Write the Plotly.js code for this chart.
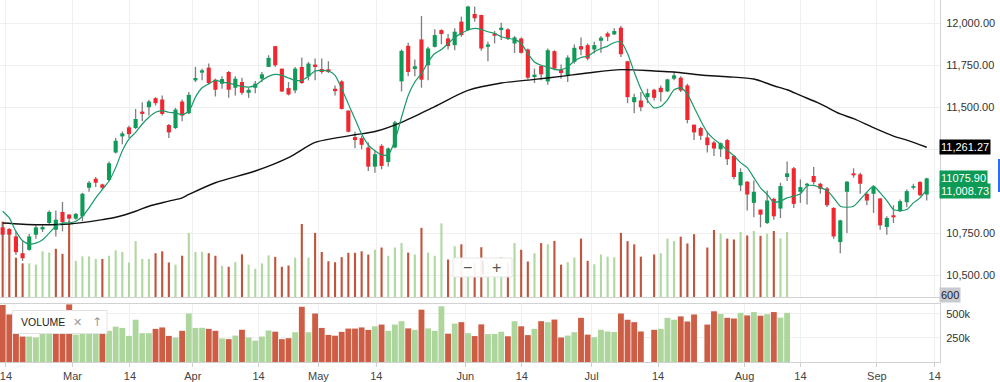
<!DOCTYPE html>
<html><head><meta charset="utf-8">
<script src="https://cdn.plot.ly/plotly-3.0.1.min.js"></script>
<style>html,body{margin:0;padding:0;background:#fff;}#chart{width:1000px;height:382px;}</style>
</head><body><div id="chart"></div>
<script>
// ---- data ----
const opens = [
10784,10774,10730,10630,10650,10740,10772,10810,10770,10876,
10860,10836,10850,11020,11074,11040,11066,11230,11326,11380,
11376,11474,11500,11554,11546,11394,11376,11534,11464,11660,
11706,11736,11664,11640,11710,11616,11650,11586,11616,11670,
11740,11864,11730,11614,11600,11740,11684,11754,11728,11726,
11610,11654,11480,11322,11316,11260,11146,11270,11174,11260,
11654,11866,11728,11904,11750,11860,11960,11910,11870,12010,
11960,12056,12050,11860,11940,11960,11964,11880,11910,11844,
11680,11746,11654,11834,11726,11690,11770,11864,11870,11844,
11896,11940,11934,11974,11774,11530,11540,11560,11604,11616,
11594,11670,11676,11630,11396,11376,11320,11290,11250,11304,
11210,11034,11056,10930,10890,10810,10954,10896,11084,11136,
10996,11034,11090,11044,11016,10900,10696,10996,11106,11100,
10984,10984,10956,10786,10856,10880,10934,11020,11054,10980];
const highs = [
10800,10780,10760,10704,10744,10796,10796,10884,10884,10936,
10864,10870,10990,11060,11084,11044,11176,11316,11356,11390,
11490,11530,11544,11560,11570,11400,11496,11546,11590,11740,
11730,11760,11670,11684,11716,11684,11676,11616,11656,11710,
11810,11864,11730,11650,11740,11796,11770,11790,11790,11774,
11630,11660,11480,11354,11330,11290,11240,11280,11260,11420,
11844,11884,11784,12044,11860,11964,11964,11936,11970,12040,
12104,12100,12050,11890,11954,12004,11970,11924,11916,11850,
11730,11750,11850,11840,11754,11810,11874,11916,11880,11890,
11924,11950,11970,11986,11774,11580,11590,11610,11610,11630,
11670,11710,11684,11640,11396,11384,11356,11300,11290,11310,
11216,11136,11060,11064,10890,11004,10960,11050,11176,11144,
11070,11050,11144,11050,11024,10904,10830,11060,11136,11110,
10994,11034,10960,10850,10916,10950,11010,11044,11060,11080];
const lows = [
10730,10724,10620,10584,10644,10716,10756,10800,10730,10760,
10800,10830,10820,10996,11024,11010,11060,11224,11280,11316,
11370,11416,11450,11510,11450,11316,11370,11416,11460,11650,
11660,11636,11564,11610,11556,11570,11574,11556,11584,11650,
11740,11740,11590,11570,11584,11640,11660,11660,11700,11704,
11570,11486,11350,11256,11250,11120,11110,11130,11146,11256,
11594,11684,11684,11616,11660,11856,11876,11844,11840,11920,
11954,12010,11836,11774,11880,11900,11900,11824,11820,11666,
11644,11660,11634,11720,11670,11650,11760,11810,11780,11820,
11824,11894,11930,11800,11524,11464,11476,11524,11540,11534,
11590,11660,11590,11404,11304,11304,11230,11210,11204,11156,
11070,11000,10884,10844,10784,10804,10830,10840,11060,10900,
10930,10920,11040,10984,10906,10716,10630,10750,11080,10984,
10916,10870,10770,10740,10810,10876,10904,11010,10970,10944];
const closes = [
10740,10740,10636,10600,10730,10784,10786,10876,10830,10816,
10836,10864,10984,11050,11050,11020,11166,11300,11344,11340,
11430,11460,11534,11524,11460,11350,11486,11450,11574,11674,
11720,11644,11604,11668,11604,11670,11586,11604,11640,11696,
11794,11750,11594,11576,11730,11644,11760,11740,11710,11710,
11596,11490,11354,11304,11276,11146,11220,11150,11254,11410,
11836,11710,11744,11664,11850,11930,11936,11864,11950,11930,
12100,12030,11850,11874,11926,11974,11910,11916,11824,11676,
11694,11696,11840,11730,11704,11796,11854,11844,11790,11870,
11914,11920,11954,11816,11560,11560,11500,11584,11556,11590,
11666,11690,11600,11424,11350,11330,11274,11254,11286,11190,
11084,11114,10980,10996,10860,10944,10850,11030,11106,10924,
11024,11044,11054,11014,10916,10730,10826,11056,11094,11044,
10944,11024,10796,10840,10844,10940,11000,11030,10976,11075.90];
const maFast = [
10880,10840,10760,10704,10684,10690,10710,10750,10790,10810,
10810,10820,10850,10900,10960,11010,11060,11140,11240,11310,
11350,11400,11440,11470,11480,11470,11466,11456,11475,11560,
11616,11640,11660,11650,11644,11634,11624,11620,11630,11660,
11684,11696,11690,11674,11660,11660,11684,11716,11720,11716,
11690,11610,11520,11430,11340,11276,11240,11216,11216,11300,
11440,11570,11650,11700,11770,11820,11844,11880,11916,11940,
11960,11970,11964,11950,11940,11920,11910,11904,11880,11820,
11770,11750,11740,11726,11724,11740,11776,11796,11804,11830,
11850,11864,11886,11890,11820,11710,11610,11540,11496,11504,
11544,11604,11616,11580,11500,11420,11350,11310,11280,11244,
11210,11170,11140,11080,11020,10980,10934,10940,10960,10970,
10984,11030,11034,11020,11004,10960,10910,10904,10910,10950,
10994,11030,10990,10944,10890,10884,10890,10930,10960,11008.73];
const maSlowIdx = [0,5,10,15,17,20,22,25,27,28,32,38,43,47,50,53,56,60,65,70,75,80,84,88,93,98,101,105,109,113,116,118,120,123,126,128,131,134,136,139];
const maSlow = [10810,10800,10804,10830,10844,10880,10910,10940,10960,10980,11050,11120,11200,11290,11316,11336,11355,11410,11504,11600,11644,11666,11684,11704,11724,11716,11710,11692,11682,11668,11628,11604,11570,11520,11460,11432,11378,11328,11304,11261.27];
// volume in thousands (null = no bar)
const volume = [
594,495,310,265,265,255,360,350,380,340,
600,285,320,320,300,300,325,368,355,272,
440,300,300,345,360,272,255,325,505,355,
356,345,325,245,238,275,336,255,222,265,
328,316,238,248,310,575,310,505,355,282,
274,314,348,348,360,334,372,390,325,390,
425,350,335,545,350,325,580,295,400,415,
300,270,392,290,292,315,268,425,372,280,
345,425,415,442,255,275,310,460,285,258,
335,318,312,505,440,415,318,null,335,345,
460,440,475,422,495,null,390,528,500,460,
453,512,485,520,482,498,520,462,512];
const volumeDir = [
-1,-1,-1,-1,1,1,1,1,-1,-1,
-1,1,1,1,1,-1,1,1,1,1,
1,1,1,-1,-1,-1,1,-1,1,1,
1,-1,-1,1,-1,1,-1,1,1,1,
1,-1,-1,-1,1,-1,1,-1,-1,-1,
-1,-1,-1,-1,-1,-1,1,-1,1,1,
1,-1,1,-1,1,1,1,-1,1,-1,
1,-1,-1,1,1,1,-1,1,-1,-1,
1,-1,1,-1,-1,1,1,-1,-1,1,
1,1,1,-1,-1,-1,-1,0,-1,1,
1,1,-1,-1,-1,0,-1,-1,1,-1,
-1,1,-1,1,-1,1,-1,1,1];
const tickPos = [0.5,10.5,19.15,28.6,38.5,47.5,56.2,69.6,78.1,88.6,98.6,111.6,120.0,131.5,140.2];
const tickLabels = ['14','Mar','14','Apr','14','May','14','Jun','14','Jul','14','Aug','14','Sep','14'];
const priceTicks = [10500,10750,11000,11250,11500,11750,12000];
const priceTickLabels = ['10,500.00','10,750.00','','','11,500.00','11,750.00','12,000.00'];
const volTicks = [250,500];
const volTickLabels = ['250k','500k'];
const lastClose = 11075.90, lastFast = 11008.73, lastSlow = 11261.27;
const lastCloseText = '11075.90', lastFastText = '11,008.73', lastSlowText = '11,261.27';
const volScaleText = '600';

// ---- styles / layout ----
const W = 940, H = 362; // plot area px
const PX = x => x / W, PY = y => (H - y) / H;
const FONT = 'Liberation Sans, Arial, sans-serif';
const UP = '#0f9b57', DOWN = '#f0272f';
const idx = closes.map((_, i) => i);
const vIdx = volume.map((_, i) => i);

const bodyBase = opens.map((o, i) => Math.min(o, closes[i]));
const bodyH = opens.map((o, i) => Math.max(Math.abs(closes[i] - o), 7));
const candleCol = opens.map((o, i) => closes[i] >= o ? UP : DOWN);

const traces = [
  { type: 'bar', x: vIdx, y: volume, xaxis: 'x', yaxis: 'y', width: 0.32,
    marker: { color: volumeDir.map(d => d >= 0 ? '#b0d8a1' : '#c0553d') }, hoverinfo: 'skip' },
  { type: 'bar', x: idx, base: lows, y: highs.map((h, i) => h - lows[i]), xaxis: 'x', yaxis: 'y3', width: 0.2,
    marker: { color: '#808080' }, hoverinfo: 'skip' },
  { type: 'bar', x: idx, base: bodyBase, y: bodyH, xaxis: 'x', yaxis: 'y3', width: 0.62,
    marker: { color: candleCol }, hoverinfo: 'skip' },
  { type: 'scatter', mode: 'lines', x: maSlowIdx, y: maSlow, xaxis: 'x', yaxis: 'y3',
    line: { color: '#111', width: 1.4, shape: 'spline', smoothing: 0.8 }, hoverinfo: 'skip' },
  { type: 'scatter', mode: 'lines', x: idx, y: maFast, xaxis: 'x', yaxis: 'y3',
    line: { color: '#1a9a68', width: 1.2, shape: 'spline', smoothing: 0.6 }, hoverinfo: 'skip' },
  { type: 'bar', x: vIdx, y: volume, xaxis: 'x2', yaxis: 'y2', width: 0.88,
    marker: { color: volumeDir.map(d => d >= 0 ? '#acd69c' : '#cd5e45') }, hoverinfo: 'skip' }
];

const grid = '#efefef', axLine = '#d2d2d2';
function lbl(x, y, text, size, color, family) {
  return { xref: 'paper', yref: 'paper', x: PX(x), y: PY(y), xanchor: 'center', yanchor: 'middle',
    text: text, showarrow: false, font: { family: family || FONT, size: size, color: color } };
}
function tag(yPx, text, bg, color) {
  return { xref: 'paper', yref: 'paper', x: 1, y: PY(yPx), xanchor: 'left', yanchor: 'middle', xshift: -1,
    text: text, showarrow: false, bgcolor: bg, borderpad: 1, font: { family: FONT, size: 11, color: color } };
}
const layout = {
  width: 1000, height: 382,
  margin: { l: 0, r: 60, t: 0, b: 20, pad: 0 },
  paper_bgcolor: '#fff', plot_bgcolor: '#fff',
  showlegend: false, hovermode: false, barmode: 'overlay',
  font: { family: FONT, size: 11, color: '#333' },
  xaxis: { domain: [0, 1], anchor: 'y', range: [-0.4, 141.0], tickvals: tickPos, ticktext: tickLabels,
    showticklabels: false, ticks: '', showgrid: true, gridcolor: grid, zeroline: false,
    showline: true, linecolor: axLine, linewidth: 1 },
  yaxis: { domain: [65 / H, 1], anchor: 'x', range: [0, 2340], visible: false, showgrid: false, zeroline: false },
  yaxis3: { overlaying: 'y', anchor: 'x', side: 'right', range: [10369, 12139],
    tickvals: priceTicks, ticktext: priceTickLabels, showgrid: true, gridcolor: grid, zeroline: false,
    showline: true, linecolor: axLine, ticks: '', ticklabelstandoff: 3,
    tickfont: { family: FONT, size: 11, color: '#333' } },
  xaxis2: { domain: [0, 1], anchor: 'y2', matches: 'x', range: [-0.4, 141.0], tickvals: tickPos, ticktext: tickLabels,
    showgrid: true, gridcolor: grid, zeroline: false, showline: true, mirror: true, linecolor: axLine,
    ticks: 'outside', ticklen: 4, tickcolor: '#cfcfcf', ticklabeloverflow: 'allow',
    tickfont: { family: FONT, size: 11, color: '#444' } },
  yaxis2: { domain: [0, 58 / H], anchor: 'x2', side: 'right', range: [0, 604],
    tickvals: volTicks, ticktext: volTickLabels, showgrid: true, gridcolor: grid, zeroline: false,
    showline: true, linecolor: axLine, ticks: '', ticklabelstandoff: 3,
    tickfont: { family: FONT, size: 11, color: '#333' } },
  shapes: [
    { type: 'rect', xref: 'paper', yref: 'paper', x0: PX(453), x1: PX(512), y0: PY(277), y1: PY(258),
      fillcolor: 'rgba(255,255,255,0.93)', line: { color: '#e6e6e6', width: 1 }, layer: 'above' },
    { type: 'line', xref: 'paper', yref: 'paper', x0: PX(483), x1: PX(483), y0: PY(274), y1: PY(261),
      line: { color: '#d8d8d8', width: 1 }, layer: 'above' },
    { type: 'rect', xref: 'paper', yref: 'paper', x0: PX(12.5), x1: PX(107), y0: PY(333.5), y1: PY(310.5),
      fillcolor: '#ffffff', line: { color: '#e3e3e3', width: 1 }, layer: 'above' },
    { type: 'rect', xref: 'paper', yref: 'paper', x0: PX(998), x1: PX(1001), y0: PY(192), y1: PY(159),
      fillcolor: '#2b6ef5', line: { width: 0 } }
  ],
  annotations: [
    { xref: 'paper', yref: 'y3', x: 1, y: lastSlow, xanchor: 'left', yanchor: 'middle', xshift: -1,
      text: lastSlowText, showarrow: false, bgcolor: '#000', borderpad: 1,
      font: { family: FONT, size: 11, color: '#fff' } },
    tag(191, lastFastText, '#0c9a56', '#fff'),
    tag(178, lastCloseText, '#0c9a56', '#fff'),
    tag(295, volScaleText, '#c8cad2', '#222'),
    lbl(467, 267.5, '\u2212', 16, '#555'),
    lbl(496.5, 267.5, '+', 16, '#555'),
    lbl(42.5, 322, 'VOLUME', 10.5, '#222'),
    lbl(77.3, 322, '\u2715', 11, '#9a9a9a', 'DejaVu Sans, sans-serif'),
    lbl(97.3, 322, '\u2191', 12, '#9a9a9a', 'DejaVu Sans, sans-serif')
  ]
};

Plotly.newPlot('chart', traces, layout, { staticPlot: true, displayModeBar: false });
</script>
</body></html>
